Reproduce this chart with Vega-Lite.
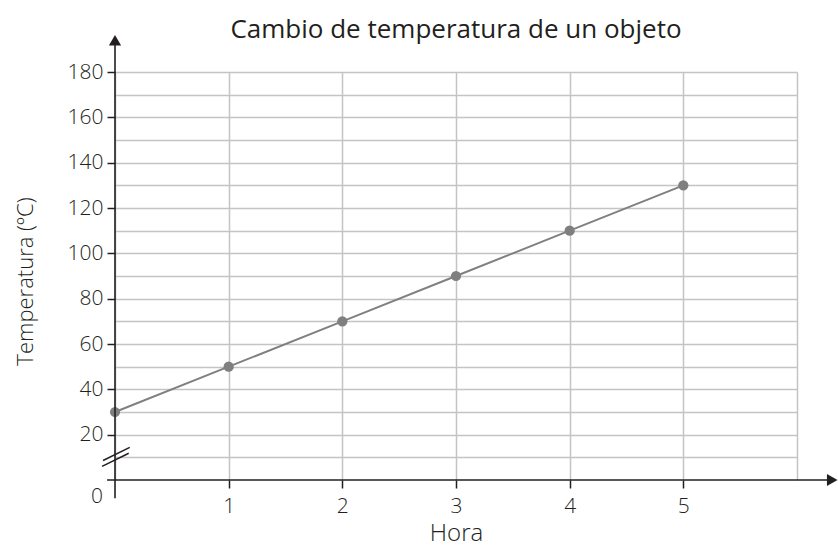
{
  "$schema": "https://vega.github.io/schema/vega-lite/v6.json",
  "width": 682,
  "height": 408,
  "autosize": {"type": "none"},
  "padding": {"left": 115, "top": 72, "right": 41, "bottom": 67},
  "background": "white",
  "title": {
    "text": "Cambio de temperatura de un objeto",
    "font": "Open Sans",
    "fontSize": 26,
    "fontWeight": "normal",
    "color": "#231f20",
    "anchor": "middle",
    "offset": -8
  },
  "config": {
    "view": {"stroke": null},
    "axis": {
      "labelFont": "Open Sans",
      "titleFont": "Open Sans",
      "labelColor": "#231f20",
      "titleColor": "#231f20",
      "labelFontSize": 21,
      "labelFontWeight": 300,
      "titleFontSize": 22,
      "titleFontWeight": 300,
      "gridColor": "#c4c4c4",
      "gridWidth": 1.5,
      "gridOpacity": 1,
      "tickColor": "#231f20",
      "tickWidth": 1.5,
      "tickSize": 8,
      "domain": false,
      "labelOverlap": false
    }
  },
  "datasets": {
    "temps": [
      {"hora": 0, "temp": 30},
      {"hora": 1, "temp": 50},
      {"hora": 2, "temp": 70},
      {"hora": 3, "temp": 90},
      {"hora": 4, "temp": 110},
      {"hora": 5, "temp": 130}
    ]
  },
  "data": {"name": "temps"},
  "layer": [
    {
      "mark": {"type": "line", "color": "#808080", "strokeWidth": 2},
      "encoding": {
        "x": {
          "field": "hora",
          "type": "quantitative",
          "scale": {"domain": [0, 6], "nice": false, "zero": false},
          "axis": {
            "title": "Hora",
            "titleFontSize": 24,
            "values": [0, 1, 2, 3, 4, 5, 6],
            "tickCount": 20,
            "format": "d",
            "grid": true,
            "labelExpr": "datum.value >= 1 && datum.value <= 5 ? datum.label : ''",
            "tickOpacity": {"condition": {"test": "datum.value >= 1 && datum.value <= 5", "value": 1}, "value": 0},
            "labelPadding": 7,
            "titlePadding": 5
          }
        },
        "y": {
          "field": "temp",
          "type": "quantitative",
          "scale": {"domain": [0, 180], "nice": false},
          "axis": {
            "title": "Temperatura (ºC)",
            "values": [10, 20, 30, 40, 50, 60, 70, 80, 90, 100, 110, 120, 130, 140, 150, 160, 170, 180],
            "tickCount": 40,
            "format": "d",
            "grid": true,
            "labelExpr": "floor(datum.value / 20) * 20 == datum.value ? datum.label : ''",
            "tickOpacity": {"condition": {"test": "floor(datum.value / 20) * 20 == datum.value", "value": 1}, "value": 0},
            "labelPadding": 4,
            "titlePadding": 30,
            "titleY": 209
          }
        }
      }
    },
    {
      "mark": {"type": "point", "filled": true, "color": "#7f7f7f", "size": 105, "opacity": 1},
      "encoding": {
        "x": {"field": "hora", "type": "quantitative"},
        "y": {"field": "temp", "type": "quantitative"}
      }
    },
    {
      "data": {"values": [{}]},
      "mark": {"type": "rule", "color": "#231f20", "strokeWidth": 1.6, "clip": false},
      "encoding": {
        "x": {"datum": 0, "type": "quantitative"},
        "y": {"datum": -8, "type": "quantitative"},
        "y2": {"datum": 195}
      }
    },
    {
      "data": {"values": [{}]},
      "mark": {"type": "rule", "color": "#231f20", "strokeWidth": 1.6, "clip": false},
      "encoding": {
        "y": {"datum": 0, "type": "quantitative"},
        "x": {"datum": -0.07, "type": "quantitative"},
        "x2": {"datum": 6.3}
      }
    },
    {
      "data": {"values": [{}]},
      "mark": {"type": "point", "shape": "triangle-up", "filled": true, "color": "#231f20", "size": 150, "opacity": 1, "clip": false},
      "encoding": {
        "x": {"datum": 0, "type": "quantitative"},
        "y": {"datum": 194, "type": "quantitative"}
      }
    },
    {
      "data": {"values": [{}]},
      "mark": {"type": "point", "shape": "triangle-right", "filled": true, "color": "#231f20", "size": 150, "opacity": 1, "clip": false},
      "encoding": {
        "x": {"datum": 6.31, "type": "quantitative"},
        "y": {"datum": 0, "type": "quantitative"}
      }
    },
    {
      "data": {"values": [{}]},
      "mark": {"type": "rule", "color": "#231f20", "strokeWidth": 1.5, "clip": false},
      "encoding": {
        "x": {"datum": -0.105, "type": "quantitative"},
        "y": {"datum": 8.6, "type": "quantitative"},
        "x2": {"datum": 0.13},
        "y2": {"datum": 14.4}
      }
    },
    {
      "data": {"values": [{}]},
      "mark": {"type": "rule", "color": "#231f20", "strokeWidth": 1.5, "clip": false},
      "encoding": {
        "x": {"datum": -0.114, "type": "quantitative"},
        "y": {"datum": 6.0, "type": "quantitative"},
        "x2": {"datum": 0.121},
        "y2": {"datum": 11.8}
      }
    },
    {
      "data": {"values": [{}]},
      "mark": {"type": "text", "text": "0", "font": "Open Sans", "fontSize": 21, "fontWeight": 300, "color": "#231f20", "align": "right", "baseline": "middle", "dx": -12, "dy": 17},
      "encoding": {
        "x": {"datum": 0, "type": "quantitative"},
        "y": {"datum": 0, "type": "quantitative"}
      }
    }
  ]
}
